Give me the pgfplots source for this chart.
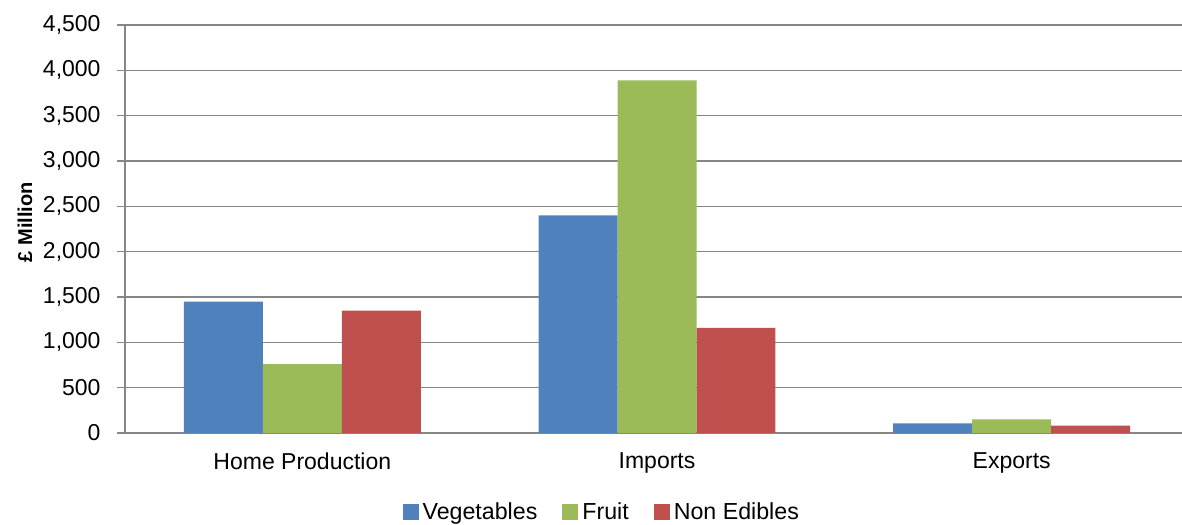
\documentclass[border=0pt]{standalone}
\usepackage{fontspec}
\setmainfont{Liberation Sans}
\usepackage{pgfplots}
\pgfplotsset{compat=1.18}
\definecolor{vegblue}{RGB}{79,129,189}
\definecolor{fruitgreen}{RGB}{155,187,89}
\definecolor{nonred}{RGB}{192,80,77}
\definecolor{gridgray}{RGB}{134,134,134}
\begin{document}
\begin{tikzpicture}
\begin{axis}[
    scale only axis,
    width=532pt, height=204pt,
    ybar=0pt, bar width=0.2227,
    xmin=-0.5, xmax=2.5,
    ymin=0, ymax=4500,
    ytick={0,500,...,4500},
    xtick={0,1,2},
    xticklabels={Home Production,Imports,Exports},
    major x tick style={draw=none},
    extra x ticks={0.5,1.5},
    extra x tick labels={},
    extra x tick style={grid=none, tick style={draw=gridgray, thick}},
    axis x line*=bottom, axis y line*=left,
    axis line style={draw=gridgray, thick},
    ymajorgrids, grid style={draw=gridgray, thick},
    y tick style={draw=gridgray, thick},
    major tick length=4pt, tick align=outside,
    /pgf/number format/1000 sep={,},
    /pgf/number format/assume math mode=true,
    tick label style={font=\fontsize{11.5}{13}\selectfont},
    yticklabel style={xshift=-4.7pt},
    ylabel={\textbf{£ Million}},
    ylabel shift=-1.5pt,
    ylabel style={font=\fontsize{10}{12}\selectfont, at={(ticklabel cs:0.517)}},
    xticklabel style={yshift=-2.5pt},
    legend style={at={(0.449,-0.194)}, anchor=center, draw=none, legend columns=-1,
        font=\fontsize{11.6}{13}\selectfont, /tikz/every even column/.append style={column sep=10.5pt}},
    legend image code/.code={\fill[#1] (0pt,-4pt) rectangle (8pt,4pt);},
]
\addplot[fill=vegblue, draw=none] coordinates {(0,1450) (1,2400) (2,105)};
\addplot[fill=fruitgreen, draw=none] coordinates {(0,760) (1,3890) (2,150)};
\addplot[fill=nonred, draw=none] coordinates {(0,1350) (1,1160) (2,80)};
\legend{Vegetables,Fruit,Non Edibles}
\coordinate (ll) at (rel axis cs:0,0);
\coordinate (ur) at (rel axis cs:1,1);
\end{axis}
\pgfresetboundingbox
\path[use as bounding box] ([xshift=-62.5pt,yshift=-46pt]ll) rectangle ([xshift=-3.5pt,yshift=12.5pt]ur);
\end{tikzpicture}
\end{document}
